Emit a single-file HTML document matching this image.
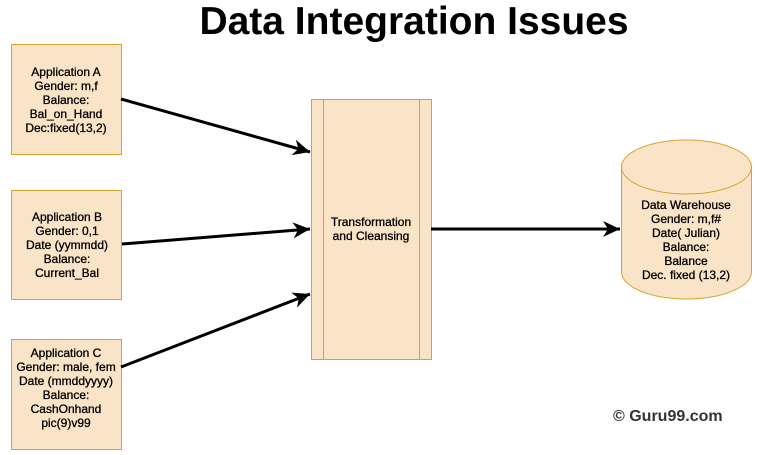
<!DOCTYPE html>
<html><head><style>
body{margin:0;width:757px;height:455px;background:#fff;overflow:hidden;position:relative;font-family:"Liberation Sans",Arial,sans-serif}
.t{position:absolute;text-align:center;font-size:12px;line-height:14px;color:#000;-webkit-text-stroke:0.3px #000}
</style></head><body>
<svg width="757" height="455" style="position:absolute;left:0;top:0">
<defs><marker id="b" markerWidth="18" markerHeight="16" refX="17" refY="8" orient="auto" markerUnits="userSpaceOnUse"><path d="M0,0 L17,8 L0,16 L5,8 Z" fill="#000"/></marker></defs>
<rect x="11.5" y="44.5" width="110" height="110" fill="#fae4c7" stroke="#d6a32e"/>
<rect x="11.5" y="190.5" width="110" height="109" fill="#fae4c7" stroke="#d6a32e"/>
<rect x="11.5" y="339.5" width="110" height="110" fill="#fae4c7" stroke="#d6a32e"/>
<rect x="311.5" y="99.5" width="120" height="260" fill="#fae4c7" stroke="#d6a32e"/>
<line x1="323.5" y1="99.5" x2="323.5" y2="359.5" stroke="#d6a32e"/>
<line x1="419.5" y1="99.5" x2="419.5" y2="359.5" stroke="#d6a32e"/>
<path d="M621.5,167 A65,27 0 0 1 751.5,167 L751.5,272 A65,27 0 0 1 621.5,272 Z" fill="#fae4c7" stroke="#d6a32e"/>
<path d="M621.5,167 A65,27 0 0 0 751.5,167" fill="none" stroke="#d6a32e"/>
<g stroke="#000" stroke-width="3" fill="none">
<line x1="121" y1="99" x2="310" y2="152" marker-end="url(#b)"/>
<line x1="122" y1="244" x2="310" y2="229" marker-end="url(#b)"/>
<line x1="121" y1="367" x2="310" y2="294" marker-end="url(#b)"/>
<line x1="431" y1="229" x2="620" y2="229" marker-end="url(#b)"/>
</g>
</svg>
<div style="position:absolute;left:0;width:828px;top:-2px;text-align:center;font-size:39px;font-weight:bold;line-height:48px">Data Integration Issues</div>
<div class="t" style="left:5px;width:122px;top:65px">Application A<br>Gender: m,f<br>Balance:<br>Bal_on_Hand<br>Dec:fixed(13,2)</div>
<div class="t" style="left:5px;width:124px;top:210px">Application B<br>Gender: 0,1<br>Date (yymmdd)<br>Balance:<br>Current_Bal</div>
<div class="t" style="left:5px;width:122px;top:346px">Application C<br>Gender: male, fem<br>Date (mmddyyyy)<br>Balance:<br>CashOnhand<br>pic(9)v99</div>
<div class="t" style="left:311px;width:120px;top:215px">Transformation<br>and Cleansing</div>
<div class="t" style="left:621px;width:130px;top:198px">Data Warehouse<br>Gender: m,f#<br>Date( Julian)<br>Balance:<br>Balance<br>Dec. fixed (13,2)</div>
<div style="position:absolute;left:613px;top:408px;font-size:16px;font-weight:bold;color:#333">© Guru99.com</div>
</body></html>
